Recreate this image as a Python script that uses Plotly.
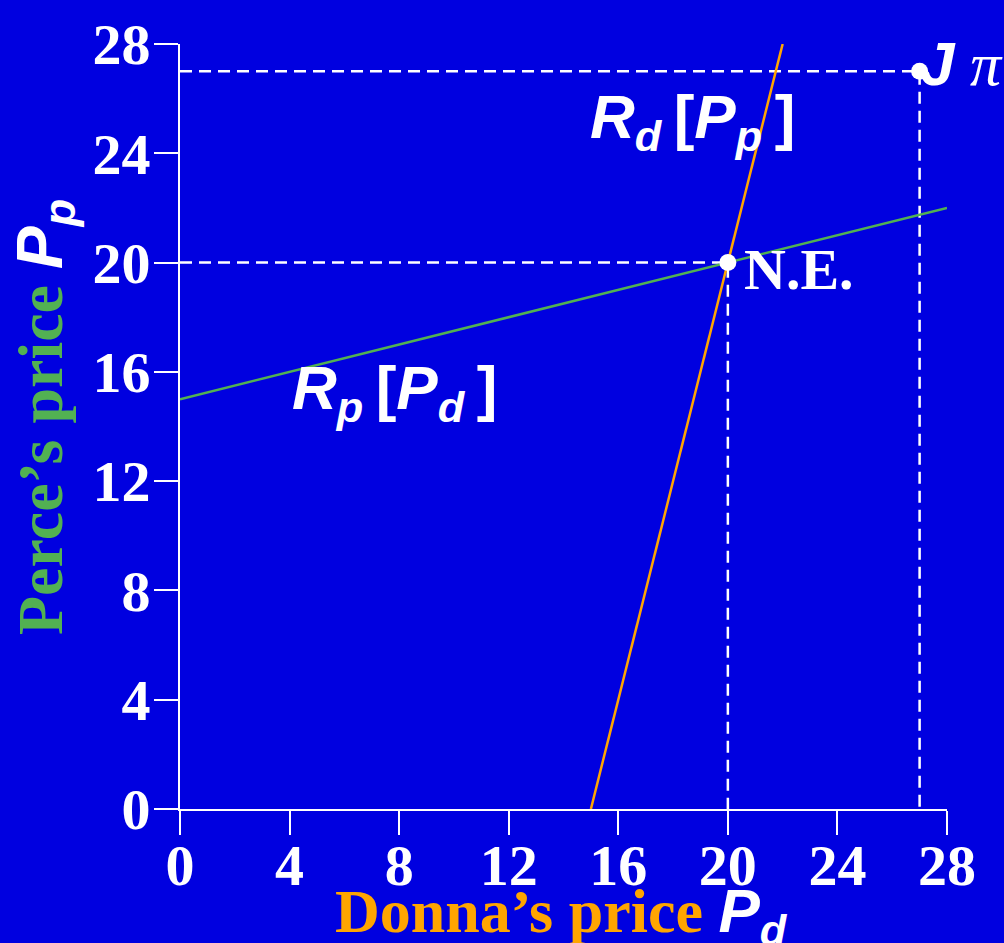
import plotly.graph_objects as go

# Data
ticks = [0, 4, 8, 12, 16, 20, 24, 28]
rp_pd = [0, 28]          # Perce's reaction: x = Donna's price
rp_pp = [15, 22]         # y = Perce's price
rd_pd = [15, 22]         # Donna's reaction: x = Donna's price
rd_pp = [0, 28]          # y = Perce's price
ne_x, ne_y = 20, 20
jp_x, jp_y = 27, 27

BG = "#0000E0"
GREEN = "#52B152"
ORANGE = "#FFA500"
SERIF = "Liberation Serif"
SANS = "Liberation Sans"

fig = go.Figure()

dash = "12px,7px"
fig.add_trace(go.Scatter(x=[0, jp_x, jp_x], y=[jp_y, jp_y, 0], mode="lines",
                         line=dict(color="white", width=2.5, dash=dash), hoverinfo="skip"))
fig.add_trace(go.Scatter(x=[0, ne_x, ne_x], y=[ne_y, ne_y, 0], mode="lines",
                         line=dict(color="white", width=2.5, dash=dash), hoverinfo="skip"))
fig.add_trace(go.Scatter(x=rp_pd, y=rp_pp, mode="lines", line=dict(color=GREEN, width=2.5)))
fig.add_trace(go.Scatter(x=rd_pd, y=rd_pp, mode="lines", line=dict(color=ORANGE, width=2.5)))
fig.add_trace(go.Scatter(x=[ne_x, jp_x], y=[ne_y, jp_y], mode="markers",
                         marker=dict(color="white", size=17), cliponaxis=False))

axis_common = dict(
    range=[0, 28], tickvals=ticks, ticktext=[str(t) for t in ticks],
    showgrid=False, zeroline=False, showline=True, linecolor="white", linewidth=2,
    ticks="outside", ticklen=24, tickwidth=2, tickcolor="white",
    tickfont=dict(family=SERIF, size=58, color="white", weight="bold"),
)
fig.update_xaxes(**axis_common, ticklabelstandoff=-20)
fig.update_yaxes(**axis_common, ticklabelstandoff=-8)

def ann(text, x, y, xref="x", yref="y", xanchor="left", yanchor="middle", angle=0, size=58):
    fig.add_annotation(text=text, x=x, y=y, xref=xref, yref=yref, showarrow=False,
                       xanchor=xanchor, yanchor=yanchor, textangle=angle,
                       font=dict(family=SANS, size=size, color="white", weight="bold"))

HS = "\u2009"
ann(f"<i>R</i><sub><i>d</i></sub>{HS}[<i>P</i><sub><i>p</i></sub>{HS}]", 14.9, 25.2, size=62)
ann(f"<i>R</i><sub><i>p</i></sub>{HS}[<i>P</i><sub><i>d</i></sub>{HS}]", 4.0, 15.25, size=62)
ann(f'<span style="font-family:{SERIF}">N.E.</span>', 20.5, 19.75)
ann(f'<i>J</i><span style="font-family:{SERIF};font-weight:normal;font-style:italic"> π</span>',
    26.95, 27.3, size=62)

ann(f'<span style="font-family:{SERIF};color:{ORANGE}">Donna’s price </span><i>P<sub>d</sub></i>',
    0.497, -0.139, xref="paper", yref="paper", xanchor="center", yanchor="middle", size=62)
ann(f'<span style="font-family:{SERIF};color:{GREEN}">Perce’s price </span><i>P<sub>p</sub></i>',
    -0.178, 0.513, xref="paper", yref="paper", xanchor="center", yanchor="middle", angle=-90, size=64)

fig.update_layout(
    width=1004, height=943,
    margin=dict(l=180, r=57, t=41, b=134),
    paper_bgcolor=BG, plot_bgcolor=BG,
    showlegend=False,
)

fig.write_html("out.html", config={"displayModeBar": False},
               post_script="document.body.style.margin='0';document.body.style.background='%s';" % BG)
